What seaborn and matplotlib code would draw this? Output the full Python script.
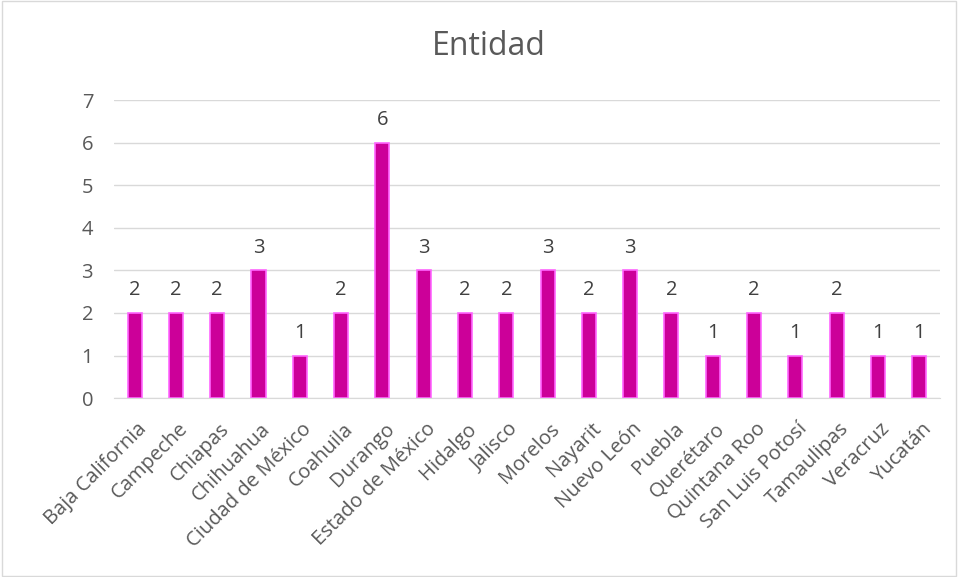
import matplotlib
matplotlib.use('Agg')
import matplotlib.pyplot as plt
import matplotlib.transforms as mtransforms
import seaborn as sns
import pandas as pd

entidades = ['Baja California', 'Campeche', 'Chiapas', 'Chihuahua', 'Ciudad de México',
             'Coahuila', 'Durango', 'Estado de México', 'Hidalgo', 'Jalisco', 'Morelos',
             'Nayarit', 'Nuevo León', 'Puebla', 'Querétaro', 'Quintana Roo',
             'San Luis Potosí', 'Tamaulipas', 'Veracruz', 'Yucatán']
conteo = [2, 2, 2, 3, 1, 2, 6, 3, 2, 2, 3, 2, 3, 2, 1, 2, 1, 2, 1, 1]
yticks = [0, 1, 2, 3, 4, 5, 6, 7]

df = pd.DataFrame({'entidad': entidades, 'n': conteo})

sns.set_style('white')
plt.rcParams['font.family'] = ['Open Sans', 'DejaVu Sans']

fig = plt.figure(figsize=(9.58, 5.77), dpi=100)
ax = fig.add_axes([0.119, 0.31, 0.862, 0.5165])

sns.barplot(data=df, x='entidad', y='n', color='#CC0099', width=0.34,
            edgecolor='#FF66FF', linewidth=1.2, saturation=1, ax=ax)

for i, v in enumerate(conteo):
    ax.text(i, v + 0.3, str(v), ha='center', va='bottom', fontsize=14.5, color='#404040')

ax.set_ylim(0, 7)
ax.set_xlim(-0.5, len(entidades) - 0.5)
ax.set_yticks(yticks)
ax.yaxis.grid(True, color='#D9D9D9', linewidth=1)
ax.set_axisbelow(True)
for s in ['top', 'right', 'left']:
    ax.spines[s].set_visible(False)
ax.spines['bottom'].set_color('#D9D9D9')
ax.tick_params(axis='both', length=0, colors='#595959', labelsize=14.5)
ax.tick_params(axis='y', pad=15)
ax.set_xticks(range(len(entidades)))
ax.set_xticklabels(entidades, rotation=45, ha='right', rotation_mode='anchor')
ax.tick_params(axis='x', pad=15)
shift = mtransforms.ScaledTranslation(2 / 100, 0, fig.dpi_scale_trans)
for lbl in ax.get_xticklabels():
    lbl.set_transform(lbl.get_transform() + shift)
ax.set_xlabel('')
ax.set_ylabel('')

fig.text(0.51, 0.92, 'Entidad', ha='center', va='center', fontsize=23, color='#595959')

border = plt.Rectangle((0.002, 0.002), 0.996, 0.996, transform=fig.transFigure,
                       fill=False, edgecolor='#D9D9D9', linewidth=1)
fig.patches.append(border)

fig.savefig('out.png', dpi=100)
